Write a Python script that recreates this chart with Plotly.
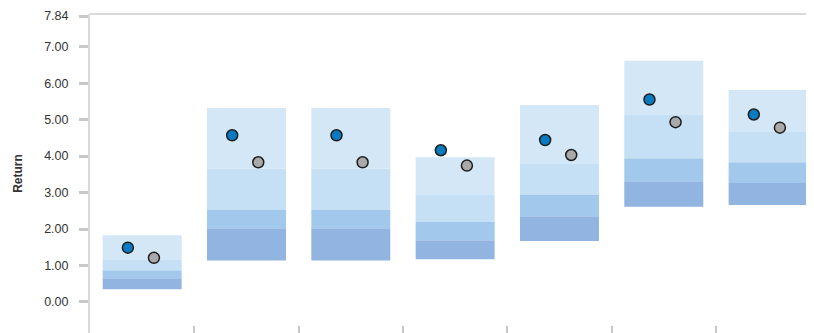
import plotly.graph_objects as go

# categories (x positions are category indices, no labels shown)
categories = [0, 1, 2, 3, 4, 5, 6]

# percentile bands of the return distribution
pct95 = [1.83, 5.32, 5.32, 3.97, 5.40, 6.61, 5.81]
pct75 = [1.17, 3.66, 3.66, 2.93, 3.78, 5.15, 4.66]
pct50 = [0.87, 2.52, 2.52, 2.19, 2.93, 3.94, 3.83]
pct25 = [0.65, 2.02, 2.02, 1.69, 2.35, 3.31, 3.26]
pct5 = [0.35, 1.14, 1.14, 1.17, 1.67, 2.61, 2.66]

# point estimates
portfolio = [1.49, 4.57, 4.57, 4.16, 4.44, 5.55, 5.14]
benchmark = [1.21, 3.83, 3.83, 3.74, 4.03, 4.93, 4.78]

y_ticks = [0, 1, 2, 3, 4, 5, 6, 7, 7.84]

fig = go.Figure()

bands = [
    (pct5, pct25, '#91b4e0'),
    (pct25, pct50, '#a2c8eb'),
    (pct50, pct75, '#c5dff4'),
    (pct75, pct95, '#d3e7f7'),
]
for low, high, col in bands:
    fig.add_trace(go.Bar(
        x=categories,
        base=low,
        y=[h - l for l, h in zip(low, high)],
        width=0.757,
        marker_color=col,
        marker_line_width=0,
        showlegend=False,
        hoverinfo='skip',
    ))

fig.add_trace(go.Scatter(
    x=[c - 0.137 for c in categories], y=portfolio, mode='markers',
    marker=dict(size=11, color='#0b7bc1', line=dict(color='#1e1e1e', width=1.5)),
    showlegend=False,
))
fig.add_trace(go.Scatter(
    x=[c + 0.113 for c in categories], y=benchmark, mode='markers',
    marker=dict(size=11, color='#a9a9a9', line=dict(color='#1e1e1e', width=1.5)),
    showlegend=False,
))

# page body has an 8px margin, so the figure is shrunk by that amount
fig.update_layout(
    width=806, height=325,
    margin=dict(l=82, r=0, t=6, b=0),
    plot_bgcolor='white', paper_bgcolor='white',
    font=dict(family='Liberation Sans, Arial', size=12.5, color='#333333'),
    barmode='overlay',
    xaxis=dict(
        range=[-0.5, 6.44],
        tickvals=[c + 0.5 for c in categories[:-1]],
        showticklabels=False,
        ticks='inside', ticklen=7, tickwidth=2, tickcolor='#c8c8c8',
        showgrid=False, zeroline=False, showline=False,
    ),
    yaxis=dict(
        range=[-0.85, 7.895],
        tickvals=y_ticks,
        ticktext=[f'{v:.2f}' for v in y_ticks],
        ticks='outside', ticklen=9, tickwidth=3, tickcolor='#c8c8c8',
        ticklabelstandoff=8,
        showgrid=False, zeroline=False,
        showline=True, linecolor='#d9d9d9', linewidth=2,
        title=dict(text='<b>Return</b>', font=dict(size=12, color='#333333'), standoff=19),
    ),
    shapes=[dict(type='line', xref='paper', yref='paper', x0=0, x1=1, y0=1, y1=1,
                 line=dict(color='#d9d9d9', width=2))],
)

fig.write_html("out.html")
